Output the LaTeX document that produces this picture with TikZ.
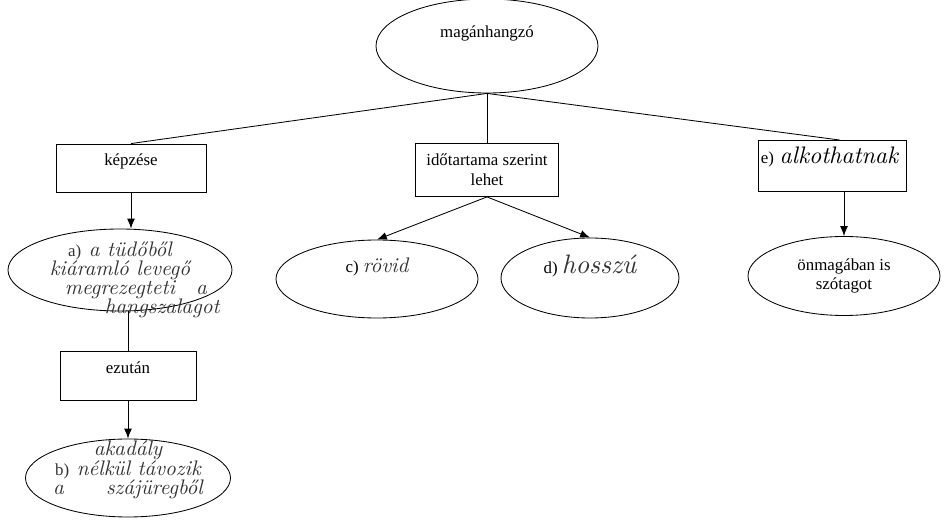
\documentclass[tikz,border=0pt]{standalone}
\usepackage{fontspec}
\setmainfont{Liberation Serif}
\newfontfamily\prn{Liberation Serif}
\newfontfamily\hand{lmroman10-italic.otf}
\usetikzlibrary{positioning,shapes.geometric,arrows.meta}
\newcommand{\lbl}[1]{{\prn\fontsize{12}{14}\selectfont #1}}

\begin{document}
\begin{tikzpicture}[-{Latex[length=7pt,width=5.5pt]} ,auto ,node distance =3cm and 9cm ,on grid ,
line width=0.6pt,
every node/.style={font=\prn\fontsize{12}{14}\selectfont},
bubble/.style ={ ellipse ,draw ,inner sep=0pt},
box/.style={rectangle,draw,inner sep=2pt},
lift/.style={text height=9pt,text depth=#1},
script/.style={font=\hand\fontsize{15}{13.5}\selectfont, text=black!80}
]
\useasboundingbox (-12.175,1.15) rectangle (11.425,-11.875);
\node[bubble,minimum width=5.55cm,minimum height=2.35cm,lift=20.4pt] (M) {magánhangzó};
\node[box,minimum width=3.75cm,minimum height=1.2cm,lift=13.2pt] (K) [below left = 3.05cm and 8.9cm of M] {képzése};
\node[box,minimum width=3.575cm,minimum height=1.325cm,align=center] (I) [below = 3.1cm of M] {időtartama szerint\\lehet};
\node[box,minimum width=3.7cm,minimum height=1.275cm,text width=3.55cm,lift=13.2pt] (E) [below right = 3cm and 8.625cm of M]
  {e) {\hand\fontsize{17}{18}\selectfont alkothatnak}};
\node[bubble,minimum width=5.6cm,minimum height=2.05cm] (A) [below left = 2.55cm and 0.275cm of K]
  [label={[script,align=center,yshift=-0.25cm]center:{\lbl{a)} a tüdőből\\ kiáramló levegő\\ \hspace*{1.5em}megrezegteti\quad a\\ \hspace*{4em}hangszalagot}}] {};
\node[box,minimum width=3.4cm,minimum height=1.225cm,lift=13.2pt] (Z) [below right = 2.65cm and 0.2cm of A] {ezután};
\node[bubble,minimum width=5.125cm,minimum height=1.95cm] (B) [below = 2.55cm of Z]
  [label={[script,align=center,yshift=0.2cm]center:{akadály\\ \lbl{b)} nélkül távozik\\ a\quad\quad szájüregből}}] {};
\node[bubble,minimum width=5.05cm,minimum height=1.95cm,lift=18.6pt] (C) [below left = 2.725cm and 2.75cm of I]
  {c) {\hand\fontsize{15}{18}\selectfont\color{black!80} rövid}};
\node[bubble,minimum width=4.45cm,minimum height=2cm,lift=16pt] (D) [below right = 2.7cm and 2.575cm of I]
  {d) {\hand\fontsize{19}{20}\selectfont\color{black!80} hosszú}};
\node[bubble,minimum width=4.8cm,minimum height=1.975cm,align=center] (O) [below right = 2.75cm and 0.3cm of E]
  {önmagában is\\szótagot};
\draw[-] (M.south) -- (K.north);
\draw[-] (M.south) -- (I.north);
\draw[-] (M.south) -- ([xshift=0.2cm]E.north);
\draw (K.south) -- (K.south |- A.north);
\draw[-] (A.south -| Z.north) -- (Z.north);
\draw (Z.south) -- (Z.south |- B.north);
\draw (I.south) -- (C.north);
\draw (I.south) -- (D.north);
\draw (E.south -| O.north) -- (O.north);
\end{tikzpicture}
\end{document}
